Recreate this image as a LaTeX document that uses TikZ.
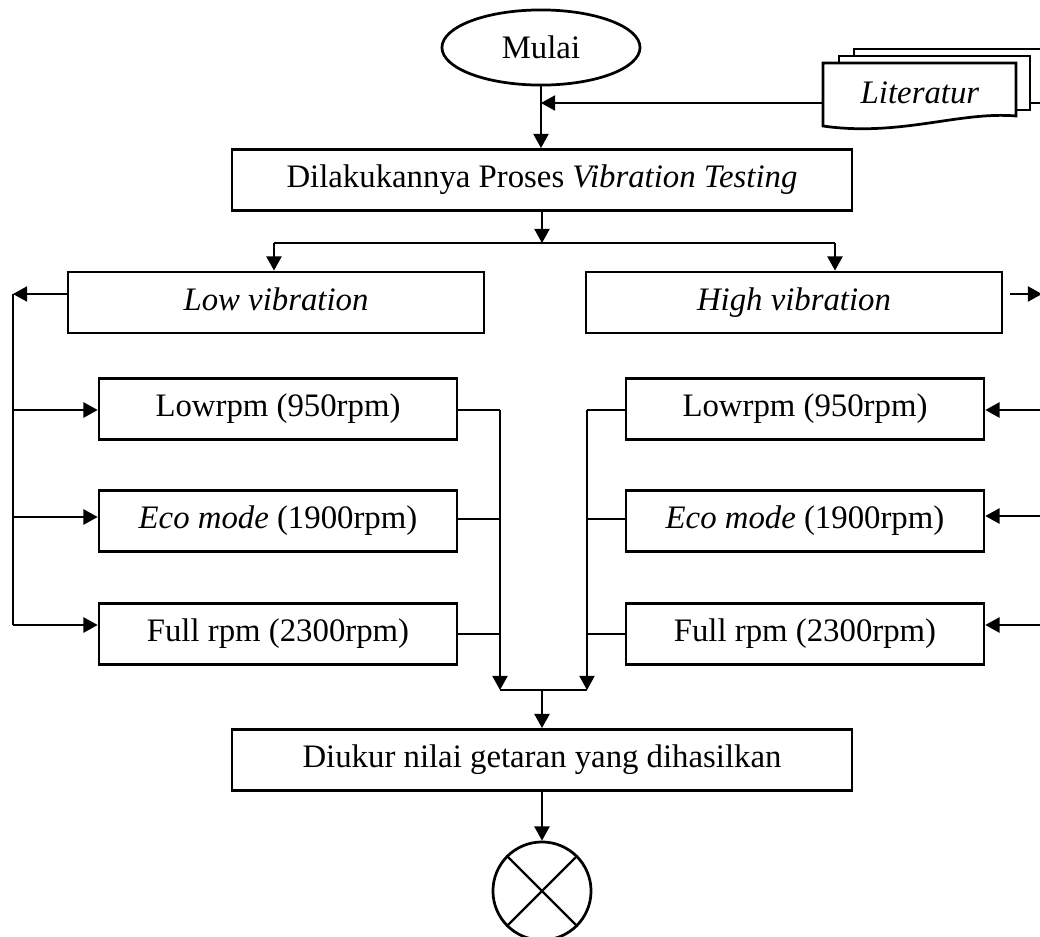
\documentclass[tikz,border=0pt]{standalone}
\usepackage{fontspec}
\setmainfont{Liberation Serif}
\usepackage{tikz}
\usetikzlibrary{arrows.meta,shapes.geometric}

\begin{document}
\begin{tikzpicture}[x=0.366pt, y=-0.366pt, font=\fontsize{12pt}{14pt}\selectfont,
  kotak/.style={draw, line width=1pt, inner sep=0pt, minimum height=22.4pt, text height=8.2pt, text depth=2.6pt},
  garis/.style={line width=0.55pt},
  panah/.style={garis, -{Triangle[length=5.2pt,width=5.6pt]}}]

\useasboundingbox (0,0) rectangle (1040,937);
\clip (0,0) rectangle (1040,937);

\node[draw, ellipse, line width=1pt, inner sep=0pt, minimum width=72.5pt, minimum height=27.5pt, text height=8.2pt, text depth=0.5pt] (mulai) at (541,47.5) {Mulai};

\draw[line width=1pt, fill=white] (854,49) rectangle (1070,103);
\draw[line width=1pt, fill=white] (839,56) rectangle (1030,110);
\draw[line width=1pt, fill=white] (823,63) -- (1016,63) -- (1016,116) .. controls (960,111) and (900,137) .. (823,126) -- cycle;
\node (literatur) at (920,93) {\textit{Literatur}};
\coordinate (litin) at (823,103);

\node[kotak, minimum width=226.9pt] (proses) at (542,180) {Dilakukannya Proses \textit{Vibration Testing}};

\node[kotak, minimum width=152.3pt] (lv) at (276,302.5) {\textit{Low vibration}};
\node[kotak, minimum width=152.3pt] (hv) at (794,302.5) {\textit{High vibration}};

\node[kotak, minimum width=131pt] (la1) at (278,409) {Lowrpm (950rpm)};
\node[kotak, minimum width=131pt] (la2) at (278,521) {\textit{Eco mode} (1900rpm)};
\node[kotak, minimum width=131pt] (la3) at (278,634) {Full rpm (2300rpm)};
\node[kotak, minimum width=131pt] (ra1) at (805,409) {Lowrpm (950rpm)};
\node[kotak, minimum width=131pt] (ra2) at (805,521) {\textit{Eco mode} (1900rpm)};
\node[kotak, minimum width=131pt] (ra3) at (805,634) {Full rpm (2300rpm)};

\node[kotak, minimum width=226.9pt] (diukur) at (542,760) {Diukur nilai getaran yang dihasilkan};
\node[draw, circle, line width=1pt, inner sep=0pt, minimum size=35.9pt] (selesai) at (542,891) {};
\draw[line width=0.8pt] (selesai.45) -- (selesai.225) (selesai.135) -- (selesai.315);

\draw[panah] (mulai.south) -- (mulai.south |- proses.north);
\draw[panah] (litin) -- (mulai.south |- litin);

\coordinate (pisah) at (542,243);
\coordinate (pisahL) at (274,243);
\coordinate (pisahR) at (835,243);
\draw[panah] (proses.south) -- (pisah);
\draw[garis] (pisahL) -- (pisahR);
\draw[panah] (pisahL) -- (pisahL |- lv.north);
\draw[panah] (pisahR) -- (pisahR |- hv.north);

\coordinate (kiri) at (13,294);
\coordinate (kanan) at (1042,294);
\draw[panah] (lv.west |- kiri) -- (kiri);
\draw[garis] (kiri) -- (13,625);
\draw[panah] (13,410) -- (la1.west |- 0,410);
\draw[panah] (13,517) -- (la2.west |- 0,517);
\draw[panah] (13,625) -- (la3.west |- 0,625);
\draw[panah] (1010,294) -- (kanan);
\draw[garis] (kanan) -- (1042,625);
\draw[panah] (1042,410) -- (ra1.east |- 0,410);
\draw[panah] (1042,516) -- (ra2.east |- 0,516);
\draw[panah] (1042,625) -- (ra3.east |- 0,625);

\coordinate (gabung) at (542,690);
\draw[garis] (la1.east |- 0,410) -- (500,410);
\draw[garis] (la2.east |- 0,519) -- (500,519);
\draw[garis] (la3.east |- 0,634) -- (500,634);
\draw[garis] (ra1.west |- 0,410) -- (587,410);
\draw[garis] (ra2.west |- 0,519) -- (587,519);
\draw[garis] (ra3.west |- 0,634) -- (587,634);
\draw[panah] (500,410) -- (500,690);
\draw[panah] (587,410) -- (587,690);
\draw[garis] (500,690) -- (587,690);
\draw[panah] (gabung) -- (diukur.north);
\draw[panah] (diukur.south) -- (selesai.north);

\end{tikzpicture}
\end{document}
